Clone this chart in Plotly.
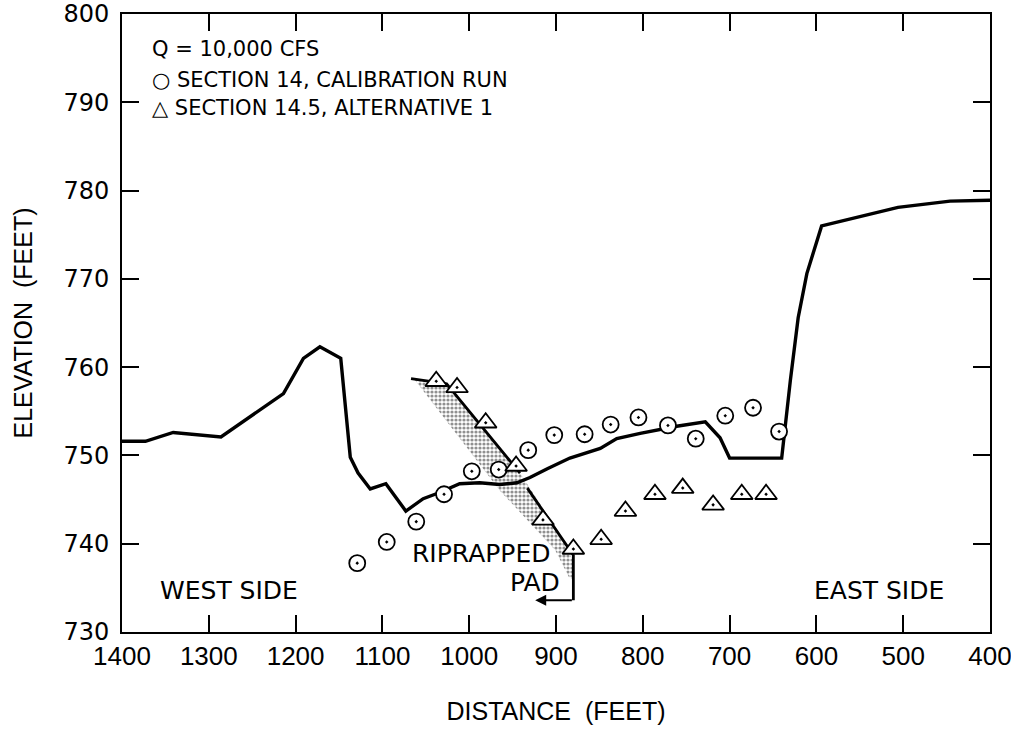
import plotly.graph_objects as go

# Ground profile at the cross section (distance ft, elevation ft)
profile_x = [1400, 1373, 1341, 1286, 1214, 1191, 1172, 1148, 1137, 1128, 1114, 1096,
             1073, 1053, 1034, 1011, 988, 965, 945, 930, 910, 884, 849, 830, 803,
             761, 728, 711, 700, 640, 630, 621, 611, 594, 506, 446, 400]
profile_y = [751.6, 751.6, 752.6, 752.1, 757.0, 761.0, 762.3, 761.0, 749.8, 748.0, 746.2, 746.8,
             743.7, 745.1, 745.8, 746.8, 746.9, 746.7, 746.9, 747.5, 748.5, 749.7, 750.8, 751.9, 752.5,
             753.3, 753.8, 752.0, 749.7, 749.7, 758.5, 765.6, 770.6, 776.0, 778.1, 778.8, 778.9]

# Section 14, calibration run
sec14_x = [1129, 1095, 1061, 1029, 997, 966, 932, 902, 867, 837, 805, 771, 739, 705, 673, 643]
sec14_y = [737.8, 740.2, 742.5, 745.6, 748.2, 748.4, 750.6, 752.3, 752.4, 753.5, 754.3,
           753.4, 751.9, 754.5, 755.4, 752.7]

# Section 14.5, alternative 1
sec145_x = [1038, 1014, 981, 946, 915, 880, 848, 820, 786, 754, 719, 686, 658]
sec145_y = [758.4, 757.7, 753.7, 748.8, 742.7, 739.4, 740.5, 743.7, 745.6, 746.3, 744.4, 745.6, 745.6]

# Riprapped pad outline and its upper face
pad_x = [1063, 1026, 941.5, 887, 880, 880, 884, 901, 964.5, 1063]
pad_y = [758.6, 758.1, 748.0, 739.8, 737.8, 736.0, 736.0, 739.3, 746.0, 758.6]
pad_face1_x = [1067, 1026, 941.5]
pad_face1_y = [758.7, 758.1, 748.0]
pad_face2_x = [933, 887, 880, 880]
pad_face2_y = [746.3, 739.8, 738.7, 733.6]
pad_arrow = dict(x_tail=880, x_head=924, y=733.6)

x_ticks = list(range(1400, 399, -100))
y_ticks = list(range(730, 801, 10))

fig = go.Figure()

fig.add_trace(go.Scatter(
    x=pad_x, y=pad_y, mode="lines", fill="toself",
    line=dict(width=0, color="rgba(0,0,0,0)"),
    fillcolor="rgba(0,0,0,0)",
    fillpattern=dict(shape=".", fgcolor="#222", bgcolor="white", size=4, solidity=0.5),
    hoverinfo="skip", showlegend=False))

fig.add_trace(go.Scatter(
    x=profile_x, y=profile_y, mode="lines",
    line=dict(color="black", width=3.4), showlegend=False))

for fx, fy in [(pad_face1_x, pad_face1_y), (pad_face2_x, pad_face2_y)]:
    fig.add_trace(go.Scatter(x=fx, y=fy, mode="lines",
                             line=dict(color="black", width=2.8), showlegend=False))

fig.add_trace(go.Scatter(
    x=sec14_x, y=sec14_y, mode="markers",
    marker=dict(symbol="circle-dot", size=16, color="white",
                line=dict(color="black", width=1.8)),
    showlegend=False))

fig.add_trace(go.Scatter(
    x=sec145_x, y=sec145_y, mode="markers",
    marker=dict(symbol="triangle-up-dot", size=19, color="white",
                line=dict(color="black", width=1.8)),
    showlegend=False))

fig.add_annotation(x=pad_arrow["x_head"], y=pad_arrow["y"],
                   ax=pad_arrow["x_tail"], ay=pad_arrow["y"],
                   axref="x", ayref="y", xref="x", yref="y",
                   text="", showarrow=True, arrowhead=2, arrowsize=1.1,
                   arrowwidth=2, arrowcolor="black")

label_font = dict(family="DejaVu Sans", size=21, color="black")
big_font = dict(family="DejaVu Sans", size=25, color="black")

legend_lines = [
    ("Q = 10,000 CFS", 796.0),
    ("○ SECTION 14, CALIBRATION RUN", 792.5),
    ("△ SECTION 14.5, ALTERNATIVE 1", 789.4),
]
for txt, yy in legend_lines:
    fig.add_annotation(x=1368, y=yy, text=txt, showarrow=False,
                       xanchor="left", yanchor="middle", font=label_font)

for txt, xx, yy in [("WEST SIDE", 1358, 734.7), ("EAST SIDE", 605, 734.7),
                    ("RIPRAPPED", 1068, 738.9), ("PAD", 955, 735.6)]:
    fig.add_annotation(x=xx, y=yy, text=txt, showarrow=False,
                       xanchor="left", yanchor="middle", font=big_font)

sans = "Liberation Sans, Arial, sans-serif"

fig.update_xaxes(
    range=[1400, 400], tickvals=x_ticks, ticktext=[str(v) for v in x_ticks],
    ticks="inside", ticklen=17, tickwidth=1.5, tickcolor="black",
    showline=True, linewidth=2, linecolor="black", mirror="ticks",
    showgrid=False, zeroline=False, automargin=False,
    ticklabeloverflow="allow",
    tickfont=dict(family=sans, size=26, color="black"),
    title=dict(text="DISTANCE  (FEET)", font=dict(family=sans, size=25, color="black"),
               standoff=32))

fig.update_yaxes(
    range=[730, 800], tickvals=y_ticks, ticktext=[str(v) for v in y_ticks],
    ticks="inside", ticklen=17, tickwidth=1.5, tickcolor="black",
    showline=True, linewidth=2, linecolor="black", mirror="ticks",
    showgrid=False, zeroline=False, automargin=False,
    ticklabeloverflow="allow", ticklabelstandoff=6,
    tickfont=dict(family="DejaVu Sans", size=24, color="black"),
    title=dict(text="ELEVATION  (FEET)", font=dict(family=sans, size=25, color="black"),
               standoff=24))

fig.update_layout(
    width=1011, height=730,
    margin=dict(l=122, r=21, t=14, b=98),
    paper_bgcolor="white", plot_bgcolor="white",
)

fig.write_html("out.html")
